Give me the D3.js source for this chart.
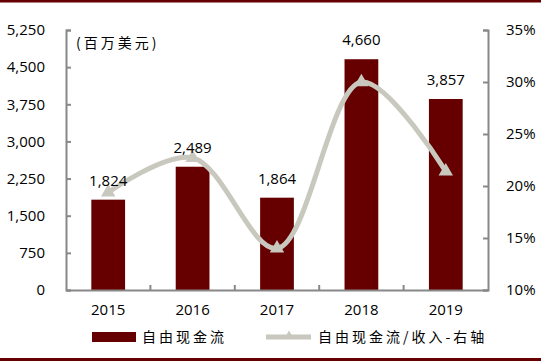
<!DOCTYPE html>
<html>
<head>
<meta charset="utf-8">
<script src="https://cdnjs.cloudflare.com/ajax/libs/d3/7.8.5/d3.min.js"></script>
<style>
  body { margin: 0; background: #fff; }
  svg { display: block; }
  .tick-label { font-family: "Open Sans", "Liberation Sans", sans-serif; font-size: 15px; fill: #000; }
  .cn { font-family: "Noto Sans CJK SC", sans-serif; font-size: 14px; fill: #000; letter-spacing: 3px; }
</style>
</head>
<body>
<div id="chart"></div>
<script>
var years = ["2015", "2016", "2017", "2018", "2019"];
var fcf = [1824, 2489, 1864, 4660, 3857];
var fcfRatio = [19.4, 22.7, 14.0, 30.0, 21.4];
var leftTicks = [0, 750, 1500, 2250, 3000, 3750, 4500, 5250];
var rightTicks = [10, 15, 20, 25, 30, 35];
var unitLabel = "(百万美元)";
var legendBar = "自由现金流";
var legendLine = "自由现金流/收入-右轴";

var W = 541, H = 361,
    margin = {left: 66, right: 53, top: 30, bottom: 71},
    width = W - margin.left - margin.right,
    height = H - margin.top - margin.bottom,
    axisColor = "#888888",
    barColor = "#660000",
    lineColor = "#c8c8be";

var svg = d3.select("#chart").append("svg")
    .attr("width", W)
    .attr("height", H);

// top and bottom frame lines
svg.append("rect").attr("x", 0).attr("y", 0).attr("width", W).attr("height", 2.5).attr("fill", barColor);
svg.append("rect").attr("x", 0).attr("y", 358).attr("width", W).attr("height", 3).attr("fill", barColor);

var g = svg.append("g")
    .attr("transform", "translate(" + margin.left + "," + margin.top + ")");

var x = d3.scaleBand().domain(years).range([0, width]).padding(0);
var barW = x.bandwidth() * 0.4;
var y = d3.scaleLinear().domain([0, 5250]).range([height, 0]);
var y2 = d3.scaleLinear().domain([10, 35]).range([height, 0]);

// bars
g.selectAll(".bar")
    .data(years)
  .enter().append("rect")
    .attr("class", "bar")
    .attr("x", function (d) { return x(d) + (x.bandwidth() - barW) / 2; })
    .attr("width", barW)
    .attr("y", function (d, i) { return y(fcf[i]); })
    .attr("height", function (d, i) { return height - y(fcf[i]); })
    .attr("fill", barColor);

// ratio line
var line = d3.line()
    .x(function (d, i) { return x(years[i]) + x.bandwidth() / 2; })
    .y(function (d) { return y2(d); })
    .curve(d3.curveCatmullRom.alpha(0.5));

g.append("path")
    .datum(fcfRatio)
    .attr("d", line)
    .attr("fill", "none")
    .attr("stroke", lineColor)
    .attr("stroke-width", 5)
    .attr("stroke-linecap", "round");

var tri = d3.symbol().type(d3.symbolTriangle).size(90);
g.selectAll(".marker")
    .data(fcfRatio)
  .enter().append("path")
    .attr("class", "marker")
    .attr("d", tri)
    .attr("transform", function (d, i) {
      return "translate(" + (x(years[i]) + x.bandwidth() / 2) + "," + y2(d) + ")";
    })
    .attr("fill", lineColor);

// bar labels (on top of the line)
g.selectAll(".bar-label")
    .data(years)
  .enter().append("text")
    .attr("class", "tick-label")
    .attr("x", function (d) { return x(d) + x.bandwidth() / 2; })
    .attr("y", function (d, i) { return y(fcf[i]) - 14; })
    .attr("text-anchor", "middle")
    .text(function (d, i) { return d3.format(",")(fcf[i]); });

// axes
var leftAxis = d3.axisLeft(y).tickValues(leftTicks).tickSize(-5).tickPadding(21).tickFormat(d3.format(","));
var rightAxis = d3.axisRight(y2).tickValues(rightTicks).tickSize(-5).tickPadding(18).tickFormat(function (d) { return d + "%"; });
var bottomAxis = d3.axisBottom(x).tickSize(0).tickPadding(14);

function styleAxis(sel) {
  sel.select(".domain").attr("stroke", axisColor).attr("stroke-width", 2);
  sel.selectAll(".tick line").attr("stroke", axisColor).attr("stroke-width", 2);
  sel.selectAll(".tick text").attr("class", "tick-label").attr("font-family", null).attr("font-size", null);
  sel.attr("font-family", null).attr("font-size", null);
}

g.append("g").call(leftAxis.tickSizeOuter(-5)).call(styleAxis);
g.append("g").attr("transform", "translate(" + width + ",0)").call(rightAxis.tickSizeOuter(-5)).call(styleAxis);
g.append("g").attr("transform", "translate(0," + height + ")").call(bottomAxis.tickSizeOuter(0)).call(styleAxis);

// x ticks at category boundaries
g.selectAll(".xsep")
    .data(years.slice(1))
  .enter().append("line")
    .attr("x1", function (d) { return x(d); })
    .attr("x2", function (d) { return x(d); })
    .attr("y1", height)
    .attr("y2", height - 5)
    .attr("stroke", axisColor)
    .attr("stroke-width", 2);

// unit label
svg.append("text")
    .attr("class", "cn")
    .attr("x", 76)
    .attr("y", 48)
    .text(unitLabel);

// legend
svg.append("rect")
    .attr("x", 92).attr("y", 332)
    .attr("width", 44).attr("height", 10)
    .attr("fill", barColor);
svg.append("text")
    .attr("class", "cn")
    .attr("x", 142).attr("y", 342)
    .text(legendBar);
svg.append("line")
    .attr("x1", 266).attr("x2", 311)
    .attr("y1", 337).attr("y2", 337)
    .attr("stroke", lineColor)
    .attr("stroke-width", 5);
svg.append("path")
    .attr("d", d3.symbol().type(d3.symbolTriangle).size(40))
    .attr("transform", "translate(289,336)")
    .attr("fill", lineColor);
svg.append("text")
    .attr("class", "cn")
    .attr("x", 318).attr("y", 342)
    .text(legendLine);
</script>
</body>
</html>
